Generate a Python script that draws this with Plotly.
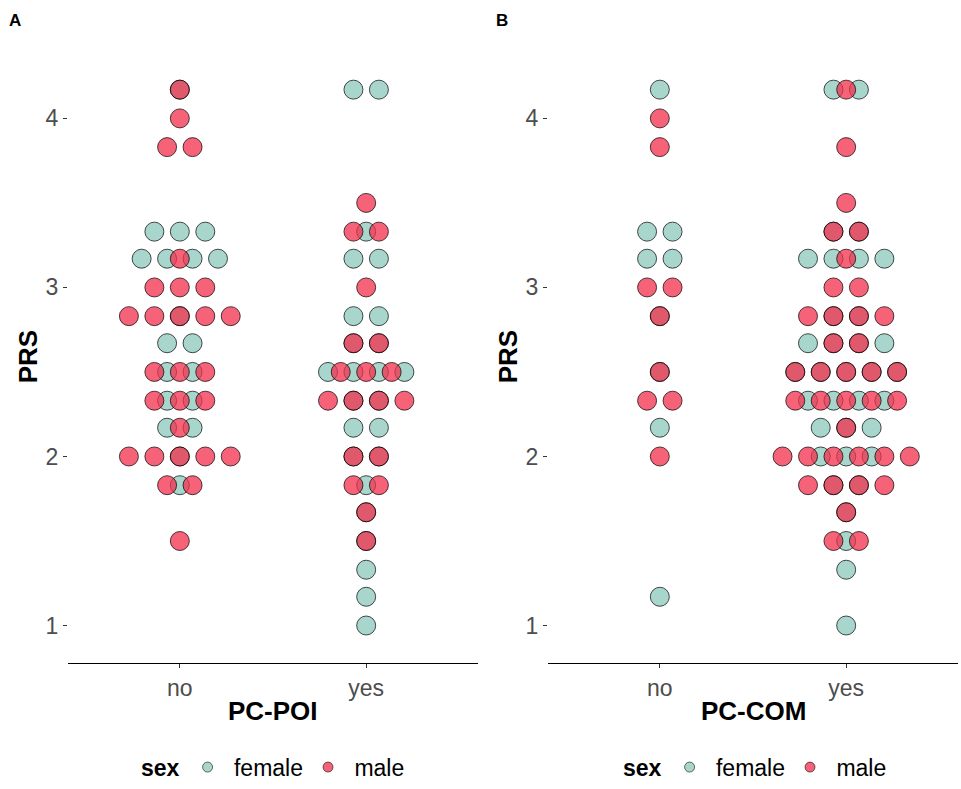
import plotly.graph_objects as go

# PRS levels (rows of the dot plot)
prs_levels = [1.0, 1.17, 1.33, 1.5, 1.67, 1.83, 2.0, 2.17, 2.33, 2.5,
              2.67, 2.83, 3.0, 3.17, 3.33, 3.5, 3.67, 3.83, 4.0, 4.17]
categories = ["no", "yes"]

# counts of subjects per PRS level
poi_no_female  = [0, 0, 0, 0, 0, 1, 1, 2, 2, 2, 2, 1, 0, 4, 3, 0, 0, 0, 0, 1]
poi_no_male    = [0, 0, 0, 1, 0, 2, 5, 1, 3, 3, 0, 5, 3, 1, 0, 0, 0, 2, 1, 1]
poi_yes_female = [1, 1, 1, 1, 1, 1, 2, 2, 2, 4, 2, 2, 0, 2, 1, 0, 0, 0, 0, 2]
poi_yes_male   = [0, 0, 0, 1, 1, 2, 2, 0, 4, 3, 2, 0, 1, 0, 2, 1, 0, 0, 0, 0]
com_no_female  = [0, 1, 0, 0, 0, 0, 0, 1, 0, 1, 0, 1, 0, 2, 2, 0, 0, 0, 0, 1]
com_no_male    = [0, 0, 0, 0, 0, 0, 1, 0, 2, 1, 0, 1, 2, 0, 0, 0, 0, 1, 1, 0]
com_yes_female = [1, 0, 1, 1, 1, 2, 3, 3, 4, 5, 4, 2, 0, 4, 2, 0, 0, 0, 0, 2]
com_yes_male   = [0, 0, 0, 2, 1, 4, 6, 1, 5, 5, 2, 4, 2, 1, 2, 1, 0, 1, 0, 1]

FEMALE_FILL = "rgba(139,200,187,0.75)"
MALE_FILL = "rgba(243,46,75,0.75)"
OUTLINE = "rgba(0,0,0,0.7)"
SPACING = 0.1366  # horizontal stacking step (category units)
FONT = "Liberation Sans, Arial, sans-serif"


def stack(counts_by_cat):
    xs, ys = [], []
    for ci, counts in enumerate(counts_by_cat):
        for lvl, n in zip(prs_levels, counts):
            for i in range(n):
                xs.append(ci + 1 + (i - (n - 1) / 2) * SPACING)
                ys.append(lvl)
    return xs, ys


fig = go.Figure()

panels = [
    ("x", "y", "legend", [poi_no_female, poi_yes_female], [poi_no_male, poi_yes_male]),
    ("x2", "y2", "legend2", [com_no_female, com_yes_female], [com_no_male, com_yes_male]),
]
for xa, ya, lg, fem, mal in panels:
    for name, data, fill in [("female", fem, FEMALE_FILL), ("male", mal, MALE_FILL)]:
        xs, ys = stack(data)
        fig.add_trace(go.Scatter(
            x=xs, y=ys, mode="markers", name=name, xaxis=xa, yaxis=ya,
            showlegend=False,
            marker=dict(size=19, color=fill, line=dict(width=1, color=OUTLINE)),
            hoverinfo="skip"))
    # legend keys (smaller symbols, as in the reference legend)
    for name, fill in [("female", FEMALE_FILL), ("male", MALE_FILL)]:
        fig.add_trace(go.Scatter(
            x=[None], y=[None], mode="markers", name=" " + name, xaxis=xa, yaxis=ya,
            legend=lg, showlegend=True,
            marker=dict(size=10, color=fill, line=dict(width=0.8, color=OUTLINE))))

TICK = 23
xcommon = dict(range=[0.4, 2.6], tickvals=[1, 2], ticktext=categories,
               showline=True, linecolor="black", linewidth=1.3,
               ticks="outside", ticklen=4, tickcolor="#333333", tickwidth=1,
               tickfont=dict(size=TICK, color="#4D4D4D", family=FONT),
               showgrid=False, zeroline=False, automargin=False)
ycommon = dict(range=[0.777, 4.39], tickvals=[1, 2, 3, 4],
               ticktext=["1", "2", "3", "4"],
               showline=False, ticks="outside", ticklen=4, tickcolor="#333333",
               tickwidth=1, tickfont=dict(size=TICK, color="#4D4D4D", family=FONT),
               showgrid=False, zeroline=False, automargin=False)

W, H = 961, 789
ydom = [1 - 670 / H, 1 - 53 / H]
legend_common = dict(orientation="h", y=1 - 775 / H, yanchor="middle",
                     itemsizing="trace",
                     title=dict(text="<b>sex</b>", side="left",
                                font=dict(size=TICK, family=FONT)),
                     font=dict(size=TICK, family=FONT), bgcolor="rgba(0,0,0,0)")
fig.update_layout(
    width=W, height=H,
    margin=dict(l=0, r=0, t=0, b=0),
    paper_bgcolor="white", plot_bgcolor="white",
    font=dict(family=FONT, color="black"),
    xaxis=dict(domain=[68 / W, 478 / W], anchor="y", **xcommon),
    yaxis=dict(domain=ydom, anchor="x", **ycommon),
    xaxis2=dict(domain=[548 / W, 958 / W], anchor="y2", **xcommon),
    yaxis2=dict(domain=ydom, anchor="x2", **ycommon),
    legend=dict(x=139 / W, xanchor="left", **legend_common),
    legend2=dict(x=621 / W, xanchor="left", **legend_common),
)

ann = [
    dict(text="<b>A</b>", x=15 / W, y=1 - 21 / H, size=17, angle=0),
    dict(text="<b>B</b>", x=502 / W, y=1 - 21 / H, size=17, angle=0),
    dict(text="<b>PRS</b>", x=28 / W, y=1 - 361 / H, size=26, angle=-90),
    dict(text="<b>PRS</b>", x=508 / W, y=1 - 361 / H, size=26, angle=-90),
    dict(text="<b>PC-POI</b>", x=273 / W, y=1 - 718 / H, size=26, angle=0),
    dict(text="<b>PC-COM</b>", x=753 / W, y=1 - 718 / H, size=26, angle=0),
]
for a in ann:
    fig.add_annotation(text=a["text"], x=a["x"], y=a["y"], xref="paper", yref="paper",
                       showarrow=False, textangle=a["angle"],
                       xanchor="center", yanchor="middle",
                       font=dict(size=a["size"], color="black", family=FONT))

fig.write_html("out.html", config={"displayModeBar": False},
               post_script="document.body.style.margin='0';"
                           "document.body.style.overflow='hidden';")
